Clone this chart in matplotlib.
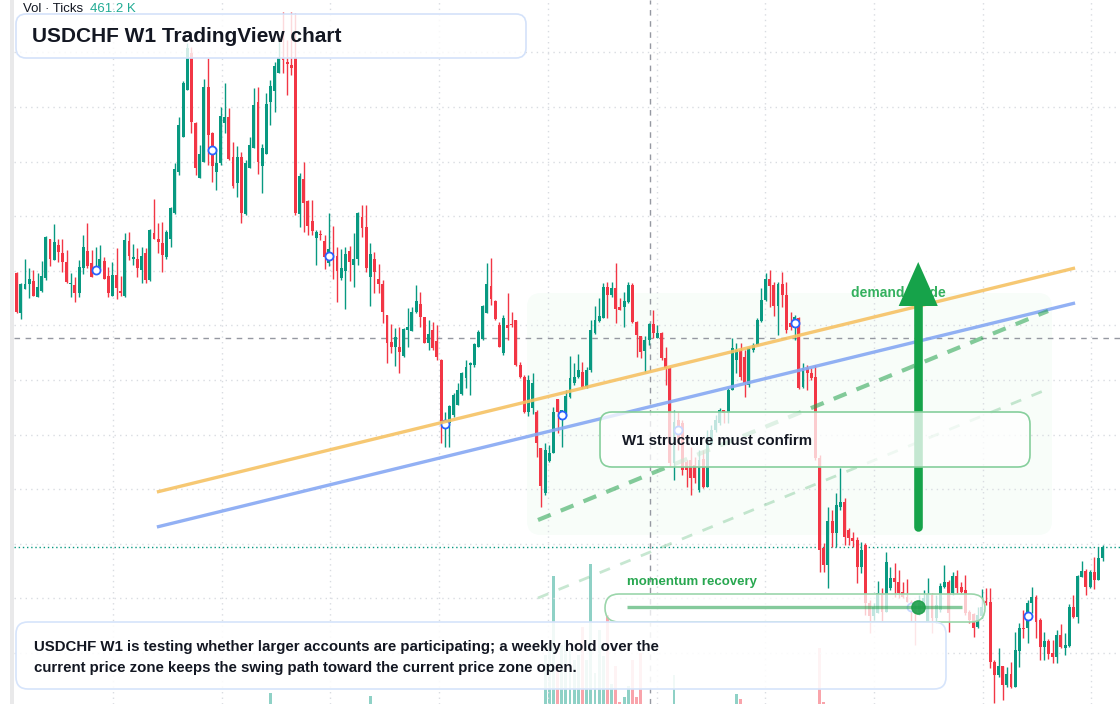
"""USDCHF W1 candlestick chart with overlay annotations."""

import numpy as np
import matplotlib

matplotlib.use("Agg")
import matplotlib.pyplot as plt
from matplotlib.patches import FancyBboxPatch, Polygon, Rectangle
from matplotlib.ticker import MultipleLocator

plt.rcParams["font.family"] = ["Liberation Sans", "DejaVu Sans"]

# weekly candles, values in pips above 0.8200
open_pips = [
    431, 391, 415, 420, 423, 407, 413, 426, 465, 444,
    459, 451, 442, 420, 419, 411, 436, 453, 441, 433,
    435, 443, 428, 408, 429, 413, 408, 463, 445, 445,
    434, 451, 424, 471, 465, 461, 447, 465, 491, 532,
    567, 614, 651, 581, 526, 542, 617, 571, 532, 541,
    581, 587, 547, 521, 547, 490, 536, 556, 602, 538,
    550, 602, 613, 631, 646, 642, 639, 647, 490, 525,
    503, 483, 466, 470, 463, 441, 451, 448, 426, 433,
    453, 439, 445, 487, 477, 427, 445, 425, 420, 389,
    362, 357, 357, 348, 374, 373, 392, 400, 387, 361,
    374, 363, 344, 277, 281, 289, 299, 310, 326, 339,
    339, 357, 365, 391, 418, 403, 379, 351, 379, 380,
    384, 339, 327, 292, 296, 292, 256, 211, 243, 251,
    305, 284, 289, 307, 321, 327, 332, 317, 334, 371,
    383, 386, 417, 409, 416, 397, 397, 402, 419, 382,
    368, 353, 364, 380, 366, 371, 346, 336, 241, 284,
    281, 242, 244, 239, 214, 245, 217, 261, 274, 281,
    294, 291, 314, 344, 354, 347, 319, 354, 359, 383,
    404, 425, 419, 398, 420, 409, 381, 376, 386, 317,
    336, 331, 327, 246, 156, 139, 183, 171, 197, 202,
    174, 166, 164, 137, 159, 101, 88, 91, 110, 92,
    116, 126, 122, 112, 107, 102, 94, 92, 98, 82,
    109, 86, 94, 117, 122, 111, 128, 117, 114, 92,
    90, 77, 88, 103, 102, 42, 29, 38, 19, 30,
    17, 53, 76, 76, 101, 107, 84, 57, 63, 51,
    47, 69, 56, 58, 97, 87, 127, 133, 117, 132,
    124, 146,
]
close_pips = [
    392, 420, 420, 425, 408, 417, 428, 467, 445, 462,
    452, 442, 422, 421, 411, 437, 457, 438, 427, 436,
    445, 425, 411, 429, 416, 411, 464, 448, 447, 436,
    448, 424, 474, 465, 462, 449, 472, 496, 535, 579,
    621, 656, 582, 536, 550, 617, 569, 538, 541, 588,
    587, 545, 518, 547, 491, 541, 559, 599, 542, 556,
    600, 618, 638, 647, 644, 640, 636, 491, 528, 501,
    478, 473, 472, 469, 447, 455, 447, 433, 436, 450,
    442, 445, 491, 476, 436, 450, 432, 420, 392, 361,
    357, 367, 352, 375, 377, 392, 403, 387, 361, 370,
    356, 347, 281, 284, 298, 309, 314, 331, 337, 341,
    360, 372, 398, 420, 405, 385, 357, 386, 376, 379,
    339, 327, 292, 324, 321, 261, 218, 254, 251, 292,
    292, 294, 308, 326, 327, 334, 317, 334, 374, 384,
    388, 417, 409, 416, 395, 394, 403, 419, 382, 369,
    352, 364, 380, 371, 371, 346, 336, 241, 282, 264,
    234, 234, 226, 226, 244, 217, 267, 274, 284, 294,
    291, 314, 356, 354, 327, 321, 356, 359, 384, 404,
    425, 418, 398, 420, 409, 374, 377, 387, 316, 336,
    331, 326, 246, 154, 139, 183, 171, 199, 202, 167,
    166, 163, 137, 154, 101, 88, 97, 111, 92, 142,
    126, 122, 111, 107, 102, 92, 91, 101, 106, 110,
    86, 99, 118, 122, 91, 128, 116, 112, 91, 84,
    76, 89, 97, 101, 42, 29, 38, 19, 30, 17,
    54, 76, 75, 101, 107, 82, 57, 63, 50, 47,
    69, 57, 59, 97, 87, 128, 133, 117, 132, 124,
    146, 157,
]
high_pips = [
    432, 421, 445, 436, 434, 431, 443, 468, 465, 480,
    465, 465, 454, 431, 427, 444, 469, 481, 454, 457,
    459, 447, 437, 442, 456, 428, 471, 472, 460, 456,
    457, 456, 475, 505, 481, 482, 474, 497, 541, 587,
    623, 661, 657, 582, 559, 625, 646, 572, 556, 597,
    621, 596, 562, 558, 552, 544, 567, 616, 617, 560,
    611, 624, 642, 664, 692, 664, 692, 691, 531, 542,
    504, 504, 474, 474, 469, 491, 478, 457, 455, 457,
    458, 471, 492, 499, 499, 461, 452, 440, 424, 389,
    380, 376, 377, 376, 396, 397, 419, 412, 387, 384,
    382, 379, 345, 292, 299, 311, 321, 332, 344, 342,
    361, 374, 399, 441, 446, 404, 382, 389, 411, 392,
    384, 342, 329, 329, 331, 294, 256, 261, 259, 297,
    305, 294, 314, 348, 341, 350, 342, 337, 384, 398,
    406, 421, 422, 422, 441, 406, 412, 422, 421, 383,
    368, 368, 381, 394, 379, 372, 357, 337, 294, 292,
    284, 244, 257, 247, 254, 254, 274, 279, 289, 296,
    294, 316, 366, 361, 361, 354, 357, 361, 386, 416,
    431, 434, 422, 422, 432, 422, 392, 389, 387, 341,
    339, 336, 339, 249, 161, 197, 194, 211, 236, 206,
    176, 172, 167, 162, 161, 104, 101, 123, 116, 152,
    137, 141, 134, 122, 125, 104, 96, 109, 114, 126,
    111, 109, 121, 139, 124, 132, 134, 122, 129, 94,
    91, 97, 115, 116, 116, 44, 56, 38, 37, 42,
    72, 81, 94, 104, 117, 109, 86, 72, 65, 64,
    74, 80, 71, 100, 109, 129, 143, 135, 134, 147,
    157, 159,
]
low_pips = [
    391, 385, 415, 406, 408, 407, 412, 424, 438, 444,
    442, 432, 421, 407, 402, 407, 430, 436, 427, 432,
    435, 425, 407, 408, 405, 408, 407, 444, 439, 427,
    421, 421, 423, 465, 451, 432, 445, 457, 490, 529,
    567, 614, 571, 529, 526, 542, 539, 522, 514, 539,
    571, 544, 516, 507, 481, 489, 536, 556, 530, 511,
    550, 579, 592, 631, 631, 609, 629, 489, 477, 472,
    469, 469, 439, 464, 435, 438, 425, 402, 424, 395,
    423, 417, 439, 467, 432, 398, 411, 411, 381, 341,
    351, 338, 331, 347, 357, 373, 391, 377, 361, 354,
    354, 344, 261, 257, 257, 287, 299, 309, 316, 309,
    337, 357, 364, 391, 399, 384, 357, 349, 364, 377,
    338, 326, 291, 288, 290, 247, 197, 209, 242, 251,
    271, 257, 288, 306, 319, 326, 316, 316, 332, 370,
    382, 386, 386, 407, 381, 394, 377, 401, 381, 347,
    346, 332, 359, 366, 366, 344, 319, 238, 224, 254,
    229, 217, 209, 221, 212, 216, 217, 259, 272, 279,
    281, 281, 314, 331, 324, 307, 317, 352, 359, 382,
    403, 397, 388, 369, 397, 371, 374, 364, 315, 316,
    314, 324, 244, 132, 132, 116, 157, 157, 194, 159,
    159, 157, 121, 131, 89, 71, 84, 91, 82, 92,
    114, 107, 106, 106, 102, 82, 59, 89, 92, 82,
    71, 81, 92, 116, 72, 109, 111, 111, 89, 81,
    67, 76, 86, 99, 36, 1, 27, 4, 17, 16,
    17, 37, 66, 61, 91, 66, 44, 44, 45, 41,
    41, 56, 49, 57, 86, 81, 127, 109, 116, 115,
    124, 143,
]

# tick volume (K) for the weeks that show a bar
vol_week = [61, 85, 127, 128, 129, 130, 131, 132, 133, 134, 135, 136, 137, 138,
            139, 140, 141, 142, 143, 144, 145, 146, 147, 148, 149, 150, 158,
            173, 174, 193, 194]
vol_k = [110, 80, 490, 610, 1280, 400, 590, 640, 540, 440, 490, 770, 440, 1400,
         310, 740, 480, 890, 200, 380, 20, 70, 180, 440, 70, 510, 290,
         100, 50, 560, 20]

# weeks carrying the blue signal circles
signal_week = [19, 47, 75, 103, 131, 159, 187, 215, 243]

UP = "#089981"
DOWN = "#f23645"
INK = "#131722"
GREEN = "#16a34a"

o = np.array(open_pips, dtype=float)
c = np.array(close_pips, dtype=float)
h = np.maximum(np.array(high_pips, dtype=float), np.maximum(o, c))
lo = np.minimum(np.array(low_pips, dtype=float), np.minimum(o, c))
x = np.arange(len(c))
colours = np.where(c >= o, UP, DOWN)

fig = plt.figure(figsize=(11.2, 7.04), dpi=100)
fig.patch.set_facecolor("white")

# pixel-space layers below and above the price pane
under = fig.add_axes([0, 0, 1, 1], zorder=-2)
under.set_xlim(0, 1120)
under.set_ylim(704, 0)
under.axis("off")
under.add_patch(Rectangle((10, 0), 4, 704, color="#e9e9ea", lw=0))
under.add_patch(FancyBboxPatch((527, 293), 525, 242,
                               boxstyle="round,pad=0,rounding_size=14",
                               fc="#22c55e", alpha=0.03, lw=0))

pane = [14 / 1120, 0, 1 - 14 / 1120, 1]
x_range = (-0.65, 265.2)

ax_vol = fig.add_axes(pane, zorder=-1)
ax_vol.set_xlim(*x_range)
ax_vol.set_ylim(0, 7040)
ax_vol.axis("off")
vol = np.zeros(len(c))
vol[vol_week] = vol_k
ax_vol.bar(x, vol, width=0.7, color=colours, alpha=0.45, lw=0)

ax = fig.add_axes(pane, zorder=0)
ax.set_facecolor("none")
ax.set_xlim(*x_range)
ax.set_ylim(0, 704)
for s in ax.spines.values():
    s.set_visible(False)
ax.tick_params(length=0, labelleft=False, labelbottom=False)
ax.xaxis.set_major_locator(MultipleLocator(26.13, offset=23.15))
ax.yaxis.set_major_locator(MultipleLocator(54.6, offset=51.0))
ax.set_axisbelow(True)
ax.grid(True, color="#d9dce1", lw=1, ls=(0, (1, 3)))

# crosshair and last price
ax.axvline(152.2, color="#9598a1", lw=1, ls=(0, (4, 4)), zorder=2)
ax.axhline(366, color="#9598a1", lw=1, ls=(0, (4, 4)), zorder=2)
ax.axhline(c[-1], color=UP, lw=1, ls=(0, (1, 2)), zorder=2)

ax.vlines(x, lo, h, colors=colours, lw=1, zorder=3)
ax.bar(x, np.maximum(np.abs(c - o), 1.0), bottom=np.minimum(o, c),
       width=0.7, color=colours, lw=0, zorder=4)

sig_y = (o[signal_week] + c[signal_week]) / 2
ax.plot(x[signal_week], sig_y, "o", ms=5.8, mfc="white", mec="#2962ff",
        mew=1.3, zorder=5)

# drawn guides
ax.plot([33.7, 254.4], [212, 436], color="#f6c264", lw=2.4, alpha=0.9,
        solid_capstyle="butt", zorder=6)
ax.plot([33.7, 254.4], [177, 401], color="#86a8f3", lw=2.4, alpha=0.9,
        solid_capstyle="butt", zorder=6)
ax.plot([125.3, 247.9], [184, 393], color="#22a04b", lw=3, alpha=0.55,
        ls=(0, (3.3, 2.6)), zorder=6)
ax.plot([125.3, 247.9], [106, 315], color="#22a04b", lw=2, alpha=0.25,
        ls=(0, (4, 4)), zorder=6)

ax.text(200.6, 411, "demand guide", fontsize=10, fontweight="bold",
        color="#34b05e", va="center", zorder=7)
ax.plot([216.7, 216.7], [177, 400], color=GREEN, lw=6.2,
        solid_capstyle="round", zorder=8)
ax.add_patch(Polygon([[212.0, 398], [221.4, 398], [216.7, 442]],
                     closed=True, color=GREEN, lw=0, zorder=8))

# annotation layer
ov = fig.add_axes([0, 0, 1, 1], zorder=1)
ov.set_xlim(0, 1120)
ov.set_ylim(704, 0)
ov.axis("off")


def _box(x0, y0, w, hgt, edge, alpha, r):
    ov.add_patch(FancyBboxPatch((x0, y0), w, hgt,
                                boxstyle=f"round,pad=0,rounding_size={r}",
                                fc=(1, 1, 1, alpha), ec=edge, lw=1.2))


_box(16, 14, 510, 44, "#d4e2fa", 0.82, 10)
_box(600, 412, 430, 55, "#86cf9c", 0.75, 12)
_box(605, 594, 380, 28, "#9bd6ab", 0.75, 14)
_box(16, 622, 930, 67, "#d6e4fb", 0.88, 12)

ov.plot([627, 962], [607, 607], color="#22a04b", lw=2.4, alpha=0.55,
        solid_capstyle="butt")
ov.plot([918], [607], "o", ms=9.6, color="#1e9e4a", alpha=0.9)

ov.text(23, 8.5, "Vol · Ticks", fontsize=9.5, color=INK, va="center")
ov.text(90, 8.5, "461.2 K", fontsize=9.5, color="#22ab94", va="center")
ov.text(32, 36, "USDCHF W1 TradingView chart", fontsize=15,
        fontweight="bold", color=INK, va="center")
ov.text(622, 441, "W1 structure must confirm", fontsize=10.8,
        fontweight="bold", color=INK, va="center")
ov.text(627, 582, "momentum recovery", fontsize=9.5, fontweight="bold",
        color="#28a750", va="center")
ov.text(34, 647, "USDCHF W1 is testing whether larger accounts are "
        "participating; a weekly hold over the", fontsize=10.8,
        fontweight="bold", color=INK, va="center")
ov.text(34, 668, "current price zone keeps the swing path toward the "
        "current price zone open.", fontsize=10.8, fontweight="bold",
        color=INK, va="center")

fig.savefig("out.png", dpi=100)
